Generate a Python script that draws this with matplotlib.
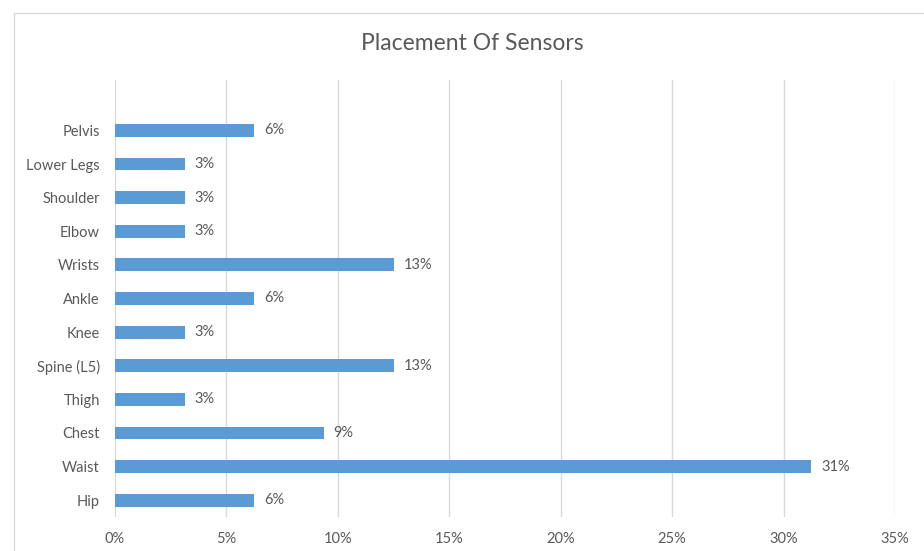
import matplotlib
matplotlib.use('Agg')
import matplotlib.pyplot as plt
from matplotlib.patches import Rectangle
from matplotlib.ticker import FuncFormatter

# data, top to bottom as shown in the chart
locations = ['Pelvis', 'Lower Legs', 'Shoulder', 'Elbow', 'Wrists', 'Ankle',
             'Knee', 'Spine (L5)', 'Thigh', 'Chest', 'Waist', 'Hip']
shares = [6.25, 3.125, 3.125, 3.125, 12.5, 6.25,
          3.125, 12.5, 3.125, 9.375, 31.25, 6.25]
x_ticks = [0, 5, 10, 15, 20, 25, 30, 35]

bar_color = '#5B9BD5'
text_color = '#595959'
grid_color = '#D9D9D9'

plt.rcParams['font.family'] = ['Lato', 'DejaVu Sans']

fig = plt.figure(figsize=(9.24, 5.51), dpi=100)
W, H = 924, 551

# light chart border like the excel chart area
fig.patches.append(Rectangle((14 / W, -0.05), 1.1, (H - 13) / H + 0.05,
                             transform=fig.transFigure, fill=False,
                             edgecolor='#D9D9D9', lw=1))

ax = fig.add_axes([115 / W, (H - 517) / H, (895 - 115) / W, (517 - 80) / H])

n = len(locations)
ypos = list(range(n - 1, -1, -1))
ax.barh(ypos, shares, height=0.38, color=bar_color, zorder=3)

for y, v in zip(ypos, shares):
    ax.annotate(f'{int(v + 0.5)}%', (v, y), xytext=(7, 0), textcoords='offset points',
                va='center', ha='left', fontsize=10.5, color=text_color)

ax.set_xlim(0, 35)
ax.set_ylim(-0.5, n + 0.5)
ax.set_xticks(x_ticks)
ax.xaxis.set_major_formatter(FuncFormatter(lambda v, p: f'{int(v)}%'))
ax.set_yticks(ypos)
ax.set_yticklabels(locations)

ax.grid(axis='x', color=grid_color, lw=1, zorder=0)
ax.tick_params(axis='both', length=0, labelsize=10.5, labelcolor=text_color)
ax.tick_params(axis='y', pad=11)
ax.tick_params(axis='x', pad=11)
for s in ax.spines.values():
    s.set_visible(False)

fig.text(472 / W, (H - 44) / H, 'Placement Of Sensors', ha='center', va='center',
         fontsize=16.5, color=text_color)

fig.savefig('out.png', dpi=100)
